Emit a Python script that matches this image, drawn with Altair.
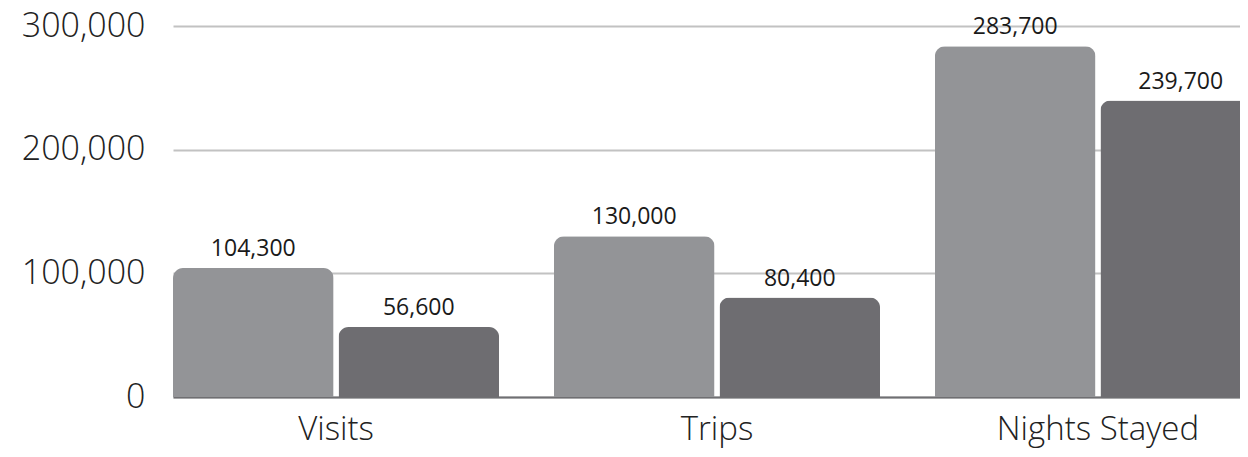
import altair as alt
import pandas as pd

categories = ["Visits", "Trips", "Nights Stayed"]
series_names = ["Series 1", "Series 2"]
series1 = [104300, 130000, 283700]
series2 = [56600, 80400, 239700]
y_ticks = [0, 100000, 200000, 300000]

rows = []
for c, a, b in zip(categories, series1, series2):
    rows.append({"category": c, "series": series_names[0], "value": a})
    rows.append({"category": c, "series": series_names[1], "value": b})
df = pd.DataFrame(rows)

FONT = "Open Sans"

x_enc = alt.X(
    "category:N",
    sort=categories,
    scale=alt.Scale(paddingInner=0.144, paddingOuter=0),
    axis=alt.Axis(
        title=None,
        labelAngle=0,
        labelFont=FONT,
        labelFontSize=33,
        labelFontWeight=300,
        labelColor="#222222",
        labelPadding=16,
        labelLimit=500,
        ticks=False,
        domain=True,
        domainColor="#6f6f72",
        domainWidth=2,
        grid=False,
    ),
)
xoff_enc = alt.XOffset(
    "series:N",
    sort=series_names,
    scale=alt.Scale(paddingInner=0.03, paddingOuter=0),
)
y_enc = alt.Y(
    "value:Q",
    scale=alt.Scale(domain=[0, 300000], nice=False),
    axis=alt.Axis(
        title=None,
        values=y_ticks,
        format=",d",
        labelFont=FONT,
        labelFontSize=34,
        labelFontWeight=300,
        labelColor="#222222",
        labelPadding=28,
        ticks=False,
        domain=False,
        grid=True,
        gridColor="#c2c2c2",
        gridWidth=2,
    ),
)
color_enc = alt.Color(
    "series:N",
    sort=series_names,
    scale=alt.Scale(domain=series_names, range=["#939497", "#6e6d71"]),
    legend=None,
)

bars = alt.Chart(df).mark_bar(
    cornerRadiusTopLeft=10, cornerRadiusTopRight=10
).encode(x=x_enc, xOffset=xoff_enc, y=y_enc, color=color_enc)

labels = alt.Chart(df).mark_text(
    font=FONT, fontSize=23, color="#1a1a1a", baseline="alphabetic", dy=-12
).encode(
    x=alt.X("category:N", sort=categories),
    xOffset=alt.XOffset("series:N", sort=series_names),
    y=alt.Y("value:Q"),
    text=alt.Text("value:Q", format=",d"),
)

chart = (
    alt.layer(bars, labels)
    .properties(
        width=1088,
        height=371,
        autosize="none",
        padding={"left": 165, "top": 18, "right": -21, "bottom": 52},
    )
    .configure_view(stroke=None)
)

chart.save("out.html", embed_options={"renderer": "svg", "actions": False})
